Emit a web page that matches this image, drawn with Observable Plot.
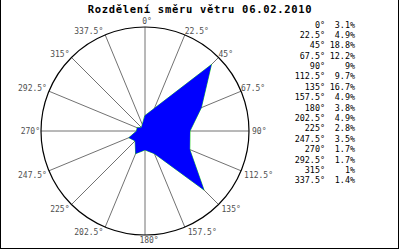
<!DOCTYPE html>
<html><head><meta charset="utf-8">
<script src="https://cdn.jsdelivr.net/npm/d3@7"></script>
<script src="https://cdn.jsdelivr.net/npm/@observablehq/plot@0.6"></script>
<style>
html,body{margin:0;padding:0;background:#fff;}
#wrap{position:relative;width:400px;height:250px;overflow:hidden;font-family:"DejaVu Sans Mono",monospace;background:#fff;}
#wrap svg{position:absolute;left:0;top:0;}
#frame{position:absolute;left:0;top:0;width:397px;height:248px;border-left:1px solid #000;border-right:1px solid #000;border-bottom:1px solid #000;pointer-events:none;}
#title{position:absolute;left:0;width:400px;top:3px;line-height:12px;text-align:center;font-weight:bold;font-size:10.5px;letter-spacing:0.7px;color:#000;}
.lg{position:absolute;font-size:8.4px;line-height:10px;color:#000;white-space:nowrap;text-align:right;}
</style></head><body><div id="wrap"></div>
<script>
// ---- data ----
const title = "Rozdělení směru větru 06.02.2010";
const directions = [0, 22.5, 45, 67.5, 90, 112.5, 135, 157.5, 180, 202.5, 225, 247.5, 270, 292.5, 315, 337.5];
const shares = [3.1, 4.9, 18.8, 12.2, 9, 9.7, 16.7, 4.9, 3.8, 4.9, 2.8, 3.5, 1.7, 1.7, 1, 1.4];
const directionLabels = directions.map(a => a + "°");
const shareLabels = shares.map(v => v + "%");
const radialMax = 20.8;

// ---- layout ----
const cx = 144.5, cy = 130.5, R = 104, W = 400, H = 250;
const k = R / radialMax;
const rad = a => a * Math.PI / 180;

const points = directions.map((a, i) => ({angle: a, value: shares[i]}));
const spokes = directions.map((a, i) => ({angle: a, label: directionLabels[i]}));
const px = d => d.value * Math.sin(rad(d.angle));
const py = d => d.value * Math.cos(rad(d.angle));
const sx = d => radialMax * Math.sin(rad(d.angle));
const sy = d => radialMax * Math.cos(rad(d.angle));

const labelStyle = {x: sx, y: sy, text: d => d.label, fill: "#505050", fontSize: 8, fontFamily: "DejaVu Sans Mono, monospace", lineAnchor: "middle"};
const lab = (filter, opts) => Plot.text(spokes, {...labelStyle, filter, ...opts});

const chart = Plot.plot({
  width: W, height: H,
  marginLeft: 0, marginRight: 0, marginTop: 0, marginBottom: 0,
  x: {domain: [-cx / k, (W - cx) / k], range: [0, W], axis: null},
  y: {domain: [-(H - cy) / k, cy / k], range: [H, 0], axis: null},
  r: {type: "linear", domain: [0, radialMax], range: [0, R]},
  marks: [
    Plot.link(spokes, {x1: 0, y1: 0, x2: sx, y2: sy, stroke: "#727272", strokeWidth: 1}),
    Plot.dot([radialMax], {x: 0, y: 0, r: d => d, stroke: "#000", fill: "none", strokeWidth: 1.2}),
    Plot.line(points, {x: px, y: py, curve: "linear-closed", stroke: "#00cc00", strokeWidth: 0.8}),
    Plot.line(points, {x: px, y: py, curve: "linear-closed", fill: "#0000ff", stroke: "none"}),
    lab(d => d.angle === 0, {textAnchor: "middle", dx: 2, dy: -6}),
    lab(d => d.angle > 0 && d.angle < 90, {textAnchor: "start", dx: 0, dy: -3}),
    lab(d => d.angle === 90, {textAnchor: "start", dx: 3, dy: 0}),
    lab(d => d.angle > 90 && d.angle < 180, {textAnchor: "start", dx: 3, dy: 5}),
    lab(d => d.angle === 180, {textAnchor: "middle", dx: 4, dy: 5.5}),
    lab(d => d.angle > 180 && d.angle < 270, {textAnchor: "end", dx: -2, dy: 5}),
    lab(d => d.angle === 270, {textAnchor: "end", dx: -1, dy: 0}),
    lab(d => d.angle > 270, {textAnchor: "end", dx: -2, dy: -3})
  ]
});

const wrap = document.getElementById("wrap");
wrap.appendChild(chart);
const t = document.createElement("div");
t.id = "title"; t.textContent = title;
wrap.appendChild(t);
directions.forEach((a, i) => {
  const top = 25 + i * 10.39 - 5.5;
  const l = document.createElement("div");
  l.className = "lg"; l.style.top = top + "px"; l.style.right = (W - 325) + "px";
  l.textContent = directionLabels[i];
  wrap.appendChild(l);
  const v = document.createElement("div");
  v.className = "lg"; v.style.top = top + "px"; v.style.right = (W - 355) + "px";
  v.textContent = shareLabels[i];
  wrap.appendChild(v);
});
const f = document.createElement("div");
f.id = "frame";
wrap.appendChild(f);
</script>
</body></html>
